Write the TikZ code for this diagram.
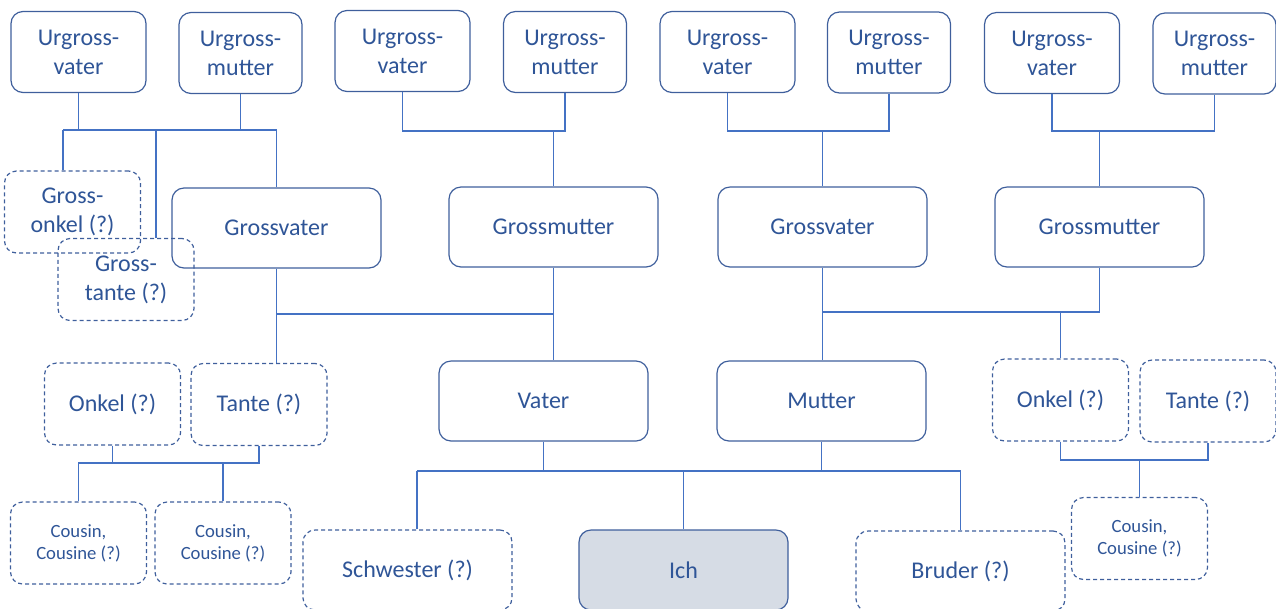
\documentclass[tikz,border=0pt]{standalone}
\usepackage{fontspec}
\setmainfont{Carlito}
\definecolor{textblue}{HTML}{2F5597}
\definecolor{boxblue}{HTML}{3F5F9C}
\definecolor{lineblue}{HTML}{4472C4}
\definecolor{ichfill}{HTML}{D6DCE5}
\tikzset{
  person/.style={draw=boxblue, line width=0.9pt, rounded corners=9pt, text=textblue,
    align=center, inner sep=0pt, font=\fontsize{18pt}{21.75pt}\selectfont},
  maybe/.style={person, dash pattern=on 3pt off 2.25pt},
  urvater/.style={person, minimum width=101.25pt, minimum height=60.75pt},
  urmutter/.style={person, minimum width=92.25pt, minimum height=60.75pt},
  bigbox/.style={minimum width=156.75pt, minimum height=60pt},
  smallbox/.style={minimum width=102pt, minimum height=61.5pt},
  cousinbox/.style={maybe, smallbox, font=\fontsize{14pt}{16.5pt}\selectfont},
  link/.style={draw=lineblue, line width=0.8pt},
}

\begin{document}
\begin{tikzpicture}[x=0.75pt, y=-0.75pt]
\useasboundingbox (0,0) rectangle (1276,608);

% Urgrosseltern
\node[urvater]  (uv1) at (78.5,52)   {Urgross-\\vater};
\node[urmutter] (um1) at (240.5,53)  {Urgross-\\mutter};
\node[urvater]  (uv2) at (402.5,51)  {Urgross-\\vater};
\node[urmutter] (um2) at (565,52)    {Urgross-\\mutter};
\node[urvater]  (uv3) at (727.5,52)  {Urgross-\\vater};
\node[urmutter] (um3) at (889,52.5)  {Urgross-\\mutter};
\node[urvater]  (uv4) at (1052,53)   {Urgross-\\vater};
\node[urmutter] (um4) at (1214.5,53.5) {Urgross-\\mutter};

% Grosseltern
\node[maybe, smallbox] (gonkel) at (72.5,212)  {Gross-\\onkel (?)};
\node[maybe, smallbox] (gtante) at (126,279.5) {Gross-\\tante (?)};
\node[person, bigbox] (gv1) at (276.5,228)  {Grossvater};
\node[person, bigbox] (gm1) at (553.5,227)  {Grossmutter};
\node[person, bigbox] (gv2) at (822.5,227)  {Grossvater};
\node[person, bigbox] (gm2) at (1099.5,227) {Grossmutter};

% Eltern
\node[maybe, smallbox] (onkel1) at (112.5,404) {Onkel (?)};
\node[maybe, smallbox] (tante1) at (259,404.5) {Tante (?)};
\node[person, bigbox] (vater)  at (543.5,401) {Vater};
\node[person, bigbox] (mutter) at (821.5,401) {Mutter};
\node[maybe, smallbox] (onkel2) at (1060.5,400) {Onkel (?)};
\node[maybe, smallbox] (tante2) at (1208,401)   {Tante (?)};

% Kinder
\node[cousinbox] (cousin1) at (78.5,543) {Cousin,\\Cousine (?)};
\node[cousinbox] (cousin2) at (223,543)  {Cousin,\\Cousine (?)};
\node[maybe, bigbox] (schwester) at (407.5,570) {Schwester (?)};
\node[person, bigbox, fill=ichfill] (ich) at (683.5,570) {Ich};
\node[maybe, bigbox] (bruder) at (960.5,571) {Bruder (?)};
\node[cousinbox] (cousin3) at (1139.5,538.5) {Cousin,\\Cousine (?)};

% junctions
\coordinate (j1) at (0,130);
\coordinate (j2) at (0,131);
\coordinate (go) at (63,130);
\coordinate (gt) at (156,130);
\coordinate (j5) at (0,314);
\coordinate (j6) at (0,312);
\coordinate (j7) at (0,463);
\coordinate (j8) at (0,471);
\coordinate (sw) at (417,471);
\coordinate (j9) at (0,460);

% Urgrosseltern -- Grosseltern
\draw[link] (uv1) -- (uv1 |- j1);
\draw[link] (um1) -- (um1 |- j1);
\draw[link] (go) -- (gv1 |- go) -- (gv1);
\draw[link] (go) -- (go |- gonkel.north);
\draw[link] (gt) -- (gt |- gtante.north);
\draw[link] (uv2) -- (uv2 |- j2) -- (um2 |- j2) -- (um2);
\draw[link] (gm1 |- j2) -- (gm1);
\draw[link] (uv3) -- (uv3 |- j2) -- (um3 |- j2) -- (um3);
\draw[link] (gv2 |- j2) -- (gv2);
\draw[link] (uv4) -- (uv4 |- j2) -- (um4 |- j2) -- (um4);
\draw[link] (gm2 |- j2) -- (gm2);

% Grosseltern -- Eltern
\draw[link] (gv1) -- (gv1 |- tante1.north);
\draw[link] (gv1 |- j5) -- (gm1 |- j5);
\draw[link] (gm1) -- (gm1 |- vater.north);
\draw[link] (gm2) -- (gm2 |- j6) -- (gv2 |- j6);
\draw[link] (gv2) -- (gv2 |- mutter.north);
\draw[link] (onkel2 |- j6) -- (onkel2);

% Eltern -- Kinder
\draw[link] (onkel1) -- (onkel1 |- j7);
\draw[link] (tante1) -- (tante1 |- j7) -- (cousin1 |- j7) -- (cousin1);
\draw[link] (cousin2 |- j7) -- (cousin2);
\draw[link] (vater) -- (vater |- j8);
\draw[link] (mutter) -- (mutter |- j8);
\draw[link] (sw) -- (bruder |- j8) -- (bruder);
\draw[link] (sw) -- (sw |- schwester.north);
\draw[link] (ich |- j8) -- (ich);
\draw[link] (onkel2) -- (onkel2 |- j9) -- (tante2 |- j9) -- (tante2);
\draw[link] (cousin3 |- j9) -- (cousin3);
\end{tikzpicture}
\end{document}
